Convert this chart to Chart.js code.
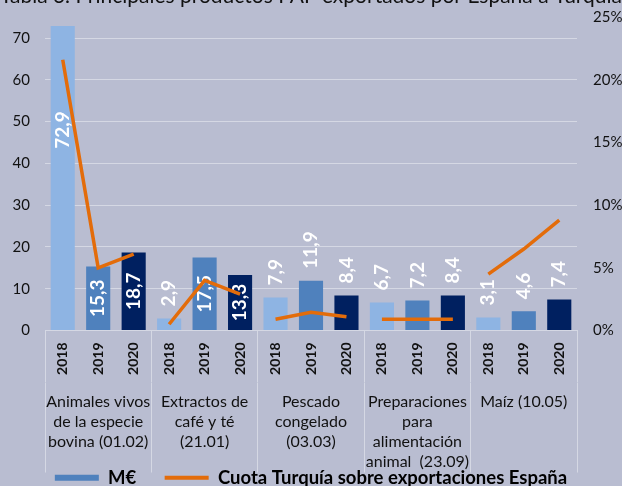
<!DOCTYPE html>
<html>
<head>
<meta charset="utf-8">
<script src="https://cdn.jsdelivr.net/npm/chart.js@4.4.1/dist/chart.umd.min.js"></script>
<style>
  html, body { margin: 0; padding: 0; background: #b9bdd1; overflow: hidden; }
  #wrap { position: absolute; left: 0; top: -16px; width: 622px; height: 513px; }
</style>
</head>
<body>
<div id="wrap"><canvas id="chart" width="622" height="513"></canvas></div>
<script>
const categories = [
  ["Animales vivos", "de la especie", "bovina (01.02)"],
  ["Extractos de", "café y té", "(21.01)"],
  ["Pescado", "congelado", "(03.03)"],
  ["Preparaciones", "para", "alimentación", "animal  (23.09)"],
  ["Maíz (10.05)"]
];
const years = ["2018", "2019", "2020"];

// M€ per product and year (2018, 2019, 2020)
const exportsM = [
  72.9, 15.3, 18.7,
  2.9, 17.5, 13.3,
  7.9, 11.9, 8.4,
  6.7, 7.2, 8.4,
  3.1, 4.6, 7.4
];
// cuota Turquía sobre exportaciones España (%)
const cuota = [
  21.6, 5.0, 6.1,
  0.5, 4.0, 2.9,
  0.9, 1.45, 1.1,
  0.9, 0.9, 0.9,
  4.5, 6.5, 8.8
];

const leftMax = 75;
const leftStep = 10;
const leftTop = 70;
const rightMax = 25;
const rightStep = 5;

const yearColors = ["#8eb4e3", "#4f81bd", "#002060"];
const orange = "#e36c0a";
const bg = "#b9bdd1";
const lineCol = "#d5d8e4";
const textCol = "#111111";

const xLabels = [];
categories.forEach(() => years.forEach(y => xLabels.push(y)));
const barColors = xLabels.map((_, i) => yearColors[i % 3]);

// background
const bgPlugin = {
  id: "bg",
  beforeDraw(chart) {
    const c = chart.ctx;
    c.save();
    c.fillStyle = bg;
    c.fillRect(0, 0, chart.width, chart.height);
    c.restore();
  }
};

// white rotated value labels on the bars
const valueLabels = {
  id: "valueLabels",
  afterDatasetDraw(chart, args) {
    if (args.index !== 0) return;
    const c = chart.ctx;
    c.save();
    c.fillStyle = "#ffffff";
    c.font = "bold 19px Lato";
    c.textBaseline = "middle";
    args.meta.data.forEach((bar, i) => {
      const v = exportsM[i];
      const txt = v.toFixed(1).replace(".", ",");
      c.save();
      c.translate(bar.x, 0);
      c.rotate(-Math.PI / 2);
      if (v >= 12) {
        const cy = Math.min((bar.y + bar.base) / 2, bar.y + 104);
        c.textAlign = "center";
        c.fillText(txt, -cy, 0);
      } else {
        c.textAlign = "left";
        c.fillText(txt, -(bar.y - 12), 0);
      }
      c.restore();
    });
    c.restore();
  }
};

new Chart(document.getElementById("chart"), {
  type: "bar",
  data: {
    labels: xLabels,
    datasets: [
      {
        label: "M€",
        data: exportsM,
        backgroundColor: barColors,
        barPercentage: 0.68,
        categoryPercentage: 1,
        yAxisID: "y",
        order: 1
      },
      {
        type: "line",
        label: "Cuota Turquía sobre exportaciones España",
        data: cuota,
        yAxisID: "y2",
        borderColor: orange,
        borderWidth: 3.5,
        pointRadius: 0,
        tension: 0,
        order: 0,
        segment: {
          borderColor: ctx => (ctx.p0DataIndex % 3 === 2 ? "transparent" : orange)
        }
      }
    ]
  },
  options: {
    responsive: false,
    animation: false,
    devicePixelRatio: 1,
    layout: { padding: 0 },
    plugins: {
      title: {
        display: true,
        text: "Tabla 3. Principales productos PAP exportados por España a Turquía",
        color: textCol,
        font: { family: "Lato", size: 21, weight: "normal" },
        padding: { top: 0, bottom: 8 }
      },
      legend: {
        position: "bottom",
        labels: {
          usePointStyle: true,
          pointStyleWidth: 44,
          boxHeight: 6,
          padding: 10,
          color: textCol,
          font: { family: "Lato", size: 18.5, weight: "bold" },
          generateLabels: () => [
            { text: "M€\u2003 ", fillStyle: yearColors[1], strokeStyle: yearColors[1], lineWidth: 0, pointStyle: "rect", datasetIndex: 0 },
            { text: "Cuota Turquía sobre exportaciones España", fillStyle: orange, strokeStyle: orange, lineWidth: 4, pointStyle: "line", datasetIndex: 1 }
          ]
        }
      },
      tooltip: { enabled: false }
    },
    scales: {
      x: {
        position: "bottom",
        weight: 0,
        offset: true,
        grid: {
          display: true,
          offset: true,
          drawOnChartArea: false,
          drawTicks: true,
          tickLength: 52,
          color: ctx => (ctx.index === undefined || ctx.index % 3 === 0 ? lineCol : "transparent")
        },
        border: { display: true, color: lineCol },
        ticks: {
          autoSkip: false,
          minRotation: 90,
          maxRotation: 90,
          padding: -40,
          color: textCol,
          font: { family: "Lato", size: 14, weight: "bold" }
        },
        afterFit: s => { s.height = 52; }
      },
      x2: {
        type: "category",
        position: "bottom",
        weight: 1,
        labels: categories,
        offset: true,
        grid: {
          display: true,
          offset: true,
          drawOnChartArea: false,
          drawTicks: true,
          tickLength: 90,
          color: lineCol
        },
        border: { display: false },
        ticks: {
          autoSkip: false,
          maxRotation: 0,
          minRotation: 0,
          padding: -81,
          color: textCol,
          font: { family: "Lato", size: 16, lineHeight: 1.25 }
        },
        afterFit: s => {
          s.height = 76;
          // let the last label line run past the axis box (legend overlaps it)
          s._computeLabelArea = () => undefined;
        }
      },
      y: {
        position: "left",
        min: 0,
        max: leftMax,
        ticks: {
          stepSize: leftStep,
          padding: 15,
          color: textCol,
          font: { family: "Lato", size: 15 }
        },
        afterBuildTicks: s => { s.ticks = s.ticks.filter(t => t.value <= leftTop); },
        grid: { color: lineCol, drawTicks: false },
        border: { display: false },
        afterFit: s => { s.width = 45; }
      },
      y2: {
        position: "right",
        min: 0,
        max: rightMax,
        ticks: {
          stepSize: rightStep,
          padding: 16,
          color: textCol,
          font: { family: "Lato", size: 15 },
          callback: v => v + "%"
        },
        grid: { display: false, drawTicks: false },
        border: { display: false },
        afterFit: s => { s.width = 45; }
      }
    }
  },
  plugins: [bgPlugin, valueLabels]
});
</script>
</body>
</html>
